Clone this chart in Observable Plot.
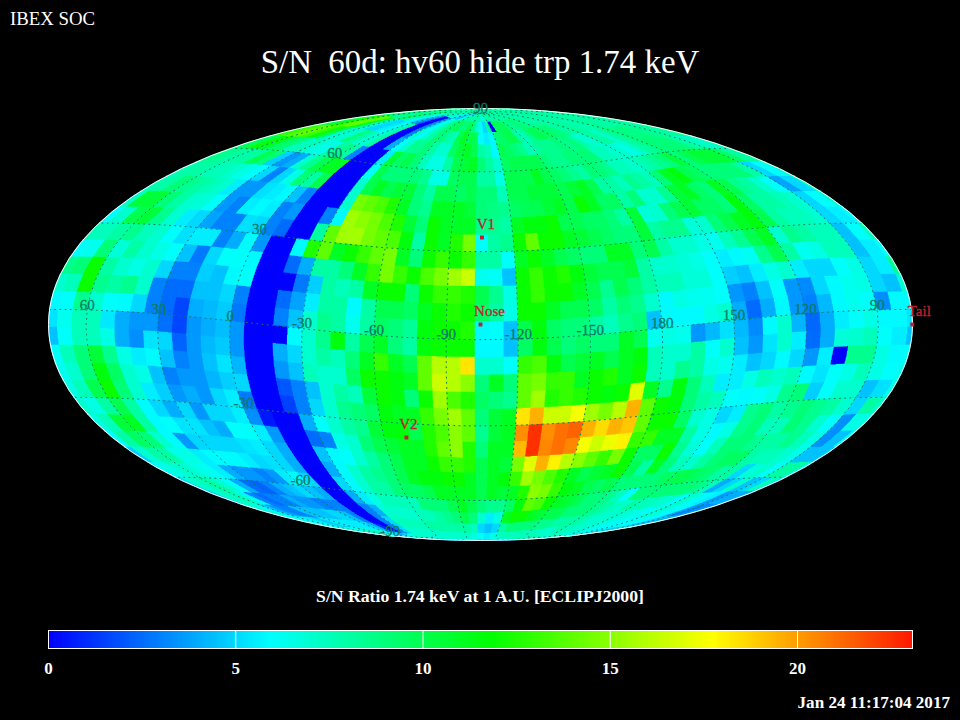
<!DOCTYPE html>
<html><head><meta charset="utf-8">
<script src="https://cdn.jsdelivr.net/npm/d3@7"></script>
<script src="https://cdn.jsdelivr.net/npm/@observablehq/plot@0.6"></script>
<style>
html,body{margin:0;padding:0;background:#000;width:960px;height:720px;overflow:hidden}
body{font-family:"Liberation Serif",serif;color:#fff}
svg{display:block}
#head{position:relative;height:90px}
#soc{position:absolute;left:10px;top:8px;font-size:18.8px}
#title{position:absolute;left:0;width:960px;top:44px;text-align:center;font-size:32.9px;white-space:pre}
#cap{height:72px;position:relative}
#capt{position:absolute;left:0;width:960px;top:36px;text-align:center;font-size:17.7px;font-weight:bold}
#date{position:relative;height:28px}
#datet{position:absolute;right:10px;top:1px;font-size:17.1px;font-weight:bold}
</style></head><body>
<div id="head"><div id="soc">IBEX SOC</div><div id="title">S/N  60d: hv60 hide trp 1.74 keV</div></div>
<div id="map"></div>
<div id="cap"><div id="capt">S/N Ratio 1.74 keV at 1 A.U. [ECLIPJ2000]</div></div>
<div id="bar"></div>
<div id="date"><div id="datet">Jan 24 11:17:04 2017</div></div>
<script>
// S/N per 6x6 degree ecliptic cell. Rows run from lat 84..90 down to -90..-84; columns from lon 78..72 going westward.
const row00=[8,8,8,8,8,8,8, 8,8,8,8,8,8,7,7,7,7,6,5, 5,4,6,7,8,8,8,8,8,8,8,7,7,7,8,8,8,8,8,8,8,8,8, 8,8,8,8,8,8,8,8,8,8,8,8, 8,8,8,8,8,8];
const row01=[9,9,9,9,9,8,8, 10,9,8,7,6,5,4,2.5,0,0,3,5, 6,7,8,9,9.5,10,9,9,10,9,7,6,5,8,0,10,9.5,10,9,8.5,8.5,9,9, 8.5,8.5,8,8,8,8,8,8,8,8,8,8, 8,8,8,8,8,8];
const row02=[9,10,12,13,14,14,12, 8,7,5,5,5.5,6,7,8,0,0,3,7, 6,7,8,9,9,8,7.5,10,11,10,10,6,5.5,5.8,9,9.5,10,10,8,7.5,8.5,9.5,10, 9.5,9.5,9,9,8,8,8.5,8,8,7.5,8,8.5, 8,8,8,8,8,8];
const row03=[11,13,14,14,13,12,10, 7,7,7,9,8,7,7,8,0,0,4,6, 7,8.5,8.5,9,8,7,7,9.5,10.5,11,10,8,7.5,5.8,10,9.5,9,8.5,7.5,8,8.5,8.5,8.5, 9,8.5,9,8,7,7,8,8,7,8,8.5,9, 8.5,9,8.5,8.5,8,8];
const row04=[9,10,12,11,9.5,9,7.5, 7.5,7,6.5,6.5,8,8.5,8,3,0,0,0,5.5, 10.5,9.5,10,9,7.5,6.5,6.5,8,10,10.5,11,9,8,7,9.5,10,10,10,10,9,8.5,8.5,9, 9,9,9,7.5,7.5,7,7,6.5,7,8,8.5,9, 9,9,9,8,7.5,7];
const row05=[8.5,8.5,8,8,8,10,9, 4.8,3.5,4,7,8.5,10,11,11,0,0,0,6, 10,9,9,9,9,8.5,6.5,6.5,9.5,10,10,8,8,6.5,10,10,10,11,10,9.5,9,8.5,8, 9,9,8.5,7.5,7.5,7,7.5,8,8.5,9,10.5,9, 10,10.5,10.5,10.5,9.5,8];
const row06=[7.5,8,8,7.5,7.5,7,6.5, 6,5,3,5,6.5,9,8,10,0,0,0,7, 10,11,10,10.5,10.5,9,8,10,10,9.5,10,9,9,7.5,10,10,10.5,10.5,10.5,10,10.5,11,10, 8,8,7.5,8.5,8,7.5,9,11,11.5,10,9.5,9, 9,9,9,8,5,6];
const row07=[7.5,8,9,8.5,8,7.5,7, 5.5,3.5,3.5,5.2,5.5,5.8,4.5,3,0,0,0,7, 14.5,14,13.5,12.5,11,9,8.5,11,11,11,10.5,9,8.8,8.5,9.5,9.8,10,10.5,11,10,12,11,9.5, 9.5,8,9,7,7,8.5,10.5,11,9.5,9,11,10, 8.5,8,7,6,3.8,5];
const row08=[7,10.5,10.5,9,8,7,6.8, 6,3.5,3,5.5,5.8,5.5,3,3.5,0,0,3,5.8, 15.5,15,14.5,13.5,12.5,10.5,9,12,11,11,11,8.5,8.5,8,11,11.5,11.5,12,10,10,9.5,9.5,9, 8,10.5,6.8,7,9,10,10.5,9.5,9.5,9,11.5,9.5, 8,8,7.5,7,5,6];
const row09=[6,7,10,10.5,8.5,7,5.5, 5,3.8,3,3,5.2,5,3,2.5,0,0,8,14, 15.5,15.5,14.5,14,13.5,11.5,8,12,11,12.5,14.5,6,8,8.5,12,14,12,12,11,10.5,10,9.5,9, 9,10.5,8,8.5,8.5,6.8,7,9,10,11,11.5,10, 8,7.5,7.5,7,5,5.5];
const row10=[7.5,7.5,8,8.5,7.5,7,6, 5.2,5.5,5.5,3,4,5.8,3.5,0,0,5.8,12.5,14, 11,12,13,14,14.5,11,9,12,13,12,13,8,8,6,11,12,11,10,9.5,9,9,11,11, 9,10,8,7,7,6.5,6.3,7.5,8.5,10,11,7, 8.5,8,7.5,7.5,4.5,6];
const row11=[6,6.3,9,6.8,8,7,6.5, 6,4.5,2.8,5,6,6,5.8,0,0,2.5,4,8, 8,9,11,13,14.5,13,12,13.5,14.5,15.5,16.5,6.3,6.1,4.5,12,13,12,12.5,11.5,10.5,10,10,10.5, 8,7,7,6.8,6.5,6,5.5,5.8,6.2,8.5,10,8, 6.3,6.5,7.5,7.5,4.5,5.5];
const row12=[8.5,9,12,8,7,6.5,7, 5,3,3,4.8,4.5,5.8,6,0,0,0,2.8,4.8, 8,7.5,8,11,12,12,9,12,13,13,12.5,10,8.5,6.5,12,13,12,12,11,10,8.5,10,9, 8,7.5,7.5,6.8,6.8,6,4.8,4.5,5.5,6.5,7,5.5, 5,5,6,6.5,5,5.5];
const row13=[7,7.5,12,8.5,8,8.5,7, 3,2.5,2.5,4.5,4.5,5,3,0,0,2.5,3.8,5.5, 8,8,5.8,8,10,10,9.5,11,12,12.5,12,9.5,8,6.5,12,12,11,10,10,9.5,8,9,8.5, 7,5.8,6.5,6.3,6.2,6,3.5,3,4.5,6,3.5,3.2, 5,5.8,6.3,6.5,5,4.5];
const row14=[5.8,6,8.5,7,6,5.8,5, 3,2.5,1.6,4,4.3,4.7,2.8,0,0,3,4.5,7, 8.5,8,6.3,8,9.5,9,8.3,11.5,12,12,12.5,5.8,6,4.5,10,11.5,9.5,9,9,8,7.5,8.5,9, 4.5,5.8,5.8,5.8,6.5,7,4,2.5,4,5.8,3.5,3, 4.3,5.8,6.3,6,3.3,5.8];
const row15=[5.3,6.3,7.5,7.5,5.4,4,3.5, 3.5,2.6,1.6,3.5,4,4.4,3.5,0,0,0,5.8,7, 8.5,11.5,8,10,11,9,8,11.5,12,12,12,5.8,5.8,4.5,9.5,11.5,10,9,9.5,9,9,11,10, 6.3,6.5,6.3,3.5,4.3,5.2,4.3,3.2,5.8,7,4.2,2.4, 4,5.5,6,6.5,5.8,5.8];
const row16=[4.5,6,7.5,7.5,6.5,4,3.3, 5.3,5,2.3,3.5,4.3,4.7,3.5,0,0,4,5,7, 8,7.5,9,11,13,11,10,14,16,16,18.3,7,7,6,13,13.5,11.5,10,10.5,11,10,11,11.5, 7.5,7,7,8,6,7,4.5,3.5,5.3,7,5.5,2.5, 4,6.8,7,7.5,6,5.5];
const row17=[6,7.5,9,10.5,8.5,6.5,5.5, 5.8,4.5,3,3.5,4.5,5.3,4.2,0,0,3.5,4.5,7.5, 7,7,9.5,12,12,11.5,11,14,16.5,16,15,9,11,9,14,14.5,13,13,11,12,12.5,11,12, 7.5,7,8.5,8,6.5,6.3,5.5,4.5,5,5.8,5,3.5, 5.5,0,8.5,8.5,6.5,5.8];
const row18=[6.3,7,9,11.5,9.5,7,6.5, 4.5,3,3.5,3.5,4.2,4.8,5,0,0,2,3,4.5, 7,8,7.5,10.5,12,11.5,9,12,15.5,13.5,12.5,9.5,9,8.5,14,15.5,12.5,13,12.5,12,11.5,12,17, 11,8.5,11.5,9,7.5,5.5,5.5,6.5,7.5,7,7.5,5.8, 5.3,6,6.5,7.5,6.5,6];
const row19=[6.5,7.5,10,12,9,7,5.5, 4.8,3.5,4,3.5,5,5.5,2.8,0,0,1.5,3,5, 7,8.5,9,9.5,11.5,11,11,13,14.5,15.5,14,9,10.5,11,18.3,19.5,16.5,16.5,17.5,15.5,14.5,16,19.5, 14,12,11.5,9,8,7.5,6,5.8,6,6.5,8.5,9, 4.8,6,7,7,4.5,5.2];
const row20=[7,6.5,8,10,8,5.8,5, 4,5,3.5,5,5,5.5,3.3,.5,0,0,4,6, 7,8,8.5,10.5,11.5,11.5,10,12.5,13.5,15,14,8.5,10.5,11,20.3,22.5,20.3,21,21.3,19.5,18.5,19.5,19, 14,12,12,9.5,7,6.5,5,5.5,8.5,9,8,8.5, 9,8.5,8,7,5,8];
const row21=[6.5,7.5,10.5,11,8,5.8,6, 5.3,5.3,4.5,4,6,6,5.5,3.5,0,0,2.5,3, 6.5,7,9,10,10.5,11,11,12.5,14,15,12.5,9,11,11,19.3,22.5,20.5,21,20.5,17.5,16.5,17.3,18, 13,13,11,11,8,6.5,5.8,6.5,8.5,9,7.5,7.5, 9,8.5,7,6,3.3,6.5];
const row22=[6,8,9.5,9,7,5.8,3.5, 5,5,5,5,5.3,5.5,5,4,0,0,4.5,5.8, 6,7,8,9,10,11,11,12,13,13,12.5,10,11,10.5,14.5,17,19.5,18,16,15,14,13,14.5, 12,9.5,9.5,12,8.5,6.8,6,7.5,9,9,8.5,8, 8,8.5,7.5,6.5,3.3,4.5];
const row23=[4.8,7,8,8,6.5,6.5,5.5, 5.8,5.8,5.8,5.5,5,5.2,5,4,0,0,4,5.8, 7,8,8.5,9,10,11,11.5,11.5,12,12,11,10,11,11.5,13,15.5,14.5,13.5,12.5,11,10,10.5,11, 12,10,8,11,9,7.5,7,8,9,9.5,9.5,8, 7.5,7.5,7,6.5,4.5,4.5];
const row24=[5.8,6.5,7,7,6.5,6.2,5.5, 4,3.5,3.5,3,3.5,5.5,5.8,5,0,0,5,5.8, 7,8,8,9,9.5,9.5,10,11,11,11,11,10,11,10.5,11,12.5,15,14.5,13,11.5,11,10,9.5, 10,9,9,9,9,9.5,10,10,9.5,9,8,8, 5,6.8,7,6,8,8];
const row25=[5,7,7.5,8,7,6,4, 2.5,2.3,3,4,4.5,5,4.5,4,0,0,4,5.5, 6.5,7.5,7.5,7.5,7.5,9,9,9,10,11,10,9,8.5,8.5,9.5,11.5,14,13.5,12,11,10.5,10,9, 9,8.5,7.5,6,9,9,9,9,9,9,8.5,7.5, 4,5,7,4.5,5,7.5];
const row26=[4.5,7,7.5,7.5,5.8,3,2.5, 3,3,4,3.5,3.5,3,3,3,0,0,3,4, 7,7,7,7,7.5,7.5,8,8.5,9,10,9,7,5.5,6.5,11,12,12,11,10.5,10,10,9,9, 9,8.5,8,7.5,7,8,7.5,7.5,7,7,6,7, 6.5,5.8,5.5,3.5,4,4];
const row27=[6,7,6,4.5,3.5,3,3, 4.5,4.5,4.5,4.5,5,5,4.5,3,0,0,3,5, 7.5,7.5,7.5,7.5,8,8,8,8,8,8,7.5,5,4.5,5,8,9,9,9,9,8.5,8.5,8,8, 8,8,7.5,7,7,7,7,6.8,6.5,6,6.5,7, 6.5,6,5.8,3.5,3,3.5];
const row28=[6,6,6,6,5.5,5,4.5, 5.5,5.5,5.5,5.5,5.5,5.5,5,4,1,0,3,5, 7,7,7,7,7,7,7,7,7,7,6.5,6,5.5,6.5,7,7.5,7.5,7.5,7.5,7.5,7.5,7,7, 8,7.5,7.5,7,7,7,6.5,6.5,6,6,6,6, 6.5,6,5.8,5,4.5,4];
const row29=[7,7,7,7,6.5,6,6, 7,7,7,7,7,7,6,6,5,4,5,6, 7,7,7,7,7,7,7,7,7,7,6.5,4,4,4.5,7,7.5,7.5,7.5,7.5,7.5,7.5,7,7, 7,7,7,7,7,7,6.5,6.5,6.5,6,6,6, 5.5,5.5,5,5,5,5];
const rows=[row00,row01,row02,row03,row04,row05,row06,row07,row08,row09,row10,row11,row12,row13,row14,row15,row16,row17,row18,row19,row20,row21,row22,row23,row24,row25,row26,row27,row28,row29];

const lonTicks=[60,30,0,-30,-60,-90,-120,-150,180,150,120,90];
const latTicks=[90,60,30,-30,-60,-90];
const probes=[{name:"V1",lon:255,lat:35,dx:4,dy:-13},{name:"V2",lon:289.7,lat:-35.2,dx:2,dy:-13},{name:"Nose",lon:255.7,lat:5.1,dx:9,dy:-13},{name:"Tail",lon:75.8,lat:-5.1,dx:7,dy:-13}];
const barTicks=[0,5,10,15,20];
const barMax=23.07;
const colorStops=[0,5.9,11.8,17.7,23.6];
const colorNames=["#0000ff","#00ffff","#00ff00","#ffff00","#ff0000"];

function mollweideRaw(l,p){
  const k=Math.PI*Math.sin(p);let t=p;
  if(Math.abs(Math.abs(p)-Math.PI/2)<1e-9)t=p;
  else for(let i=0;i<60;i++){const d=(2*t+Math.sin(2*t)-k)/(2+2*Math.cos(2*t));t-=d;if(Math.abs(d)<1e-9)break;}
  return [2*Math.SQRT2/Math.PI*l*Math.cos(t),Math.SQRT2*Math.sin(t)];
}
const projection=d3.geoProjection(mollweideRaw).rotate([-255.7,-5.1]).reflectX(true).scale(152.735).translate([480,234]).precision(.3);

const cells=[];
rows.forEach((r,i)=>r.forEach((v,j)=>{
  const n=Math.min(90-6*i,89.99),s=Math.max(90-6*(i+1),-89.99),e=78-6*j,w=72-6*j,c=[];
  for(let t=0;t<=4;t++)c.push([w+(e-w)*t/4,n]);
  for(let t=0;t<=4;t++)c.push([e-(e-w)*t/4,s]);
  c.push(c[0]);
  cells.push({v,geometry:{type:"Polygon",coordinates:[c]}});
}));
const graticule=d3.geoGraticule().stepMajor([30,30]).stepMinor([30,30]).extentMinor([[-180,-89.99],[180,89.99]]).extentMajor([[-180,-89.99],[180,89.99]])();
const teal="#0c7a63",red="#c0202a",font='"Liberation Serif",serif';
const color={type:"linear",domain:colorStops,range:colorNames,clamp:true};

document.getElementById("map").append(Plot.plot({
  width:960,height:460,margin:0,projection,color,
  style:{background:"#000",overflow:"visible"},
  marks:[
    Plot.geo(cells,{geometry:d=>d.geometry,fill:"v",stroke:"v",strokeWidth:.6,shapeRendering:"crispEdges"}),
    Plot.geo(graticule,{stroke:teal,strokeWidth:1,strokeDasharray:"1 4.2"}),
    Plot.sphere({stroke:"#fff",strokeWidth:1}),
    Plot.text(lonTicks,{x:d=>d,y:()=>0,text:d=>String(d),fill:teal,stroke:teal,strokeWidth:.3,fontSize:15,fontFamily:font,dy:-5}),
    Plot.text(latTicks,{x:()=>0,y:d=>d,text:d=>String(d),fill:teal,stroke:teal,strokeWidth:.3,fontSize:15,fontFamily:font,dy:-5}),
    Plot.dot(probes,{x:"lon",y:"lat",r:2.2,symbol:"square",fill:red}),
    ...probes.map(p=>Plot.text([p],{x:"lon",y:"lat",text:"name",fill:red,stroke:red,strokeWidth:.3,fontSize:15,fontFamily:font,dx:p.dx,dy:p.dy}))
  ]
}));

document.getElementById("bar").append(Plot.plot({
  width:960,height:70,marginLeft:48,marginRight:48,marginTop:8,marginBottom:44,
  style:{background:"#000",color:"#fff",overflow:"visible"},
  x:{domain:[0,barMax],label:null},
  color,
  marks:[
    Plot.rect(d3.range(0,barMax,.05),{x1:d=>d,x2:d=>Math.min(d+.06,barMax),fill:d=>d,shapeRendering:"crispEdges"}),
    Plot.ruleX(barTicks.slice(1),{stroke:"#fff",strokeWidth:1}),
    Plot.frame({stroke:"#fff",strokeWidth:1}),
    Plot.axisX({ticks:barTicks,tickSize:0,tickPadding:13,label:null,fontSize:17,fontFamily:font,fontWeight:"bold",tickFormat:d=>String(d)})
  ]
}));
</script>
</body></html>
